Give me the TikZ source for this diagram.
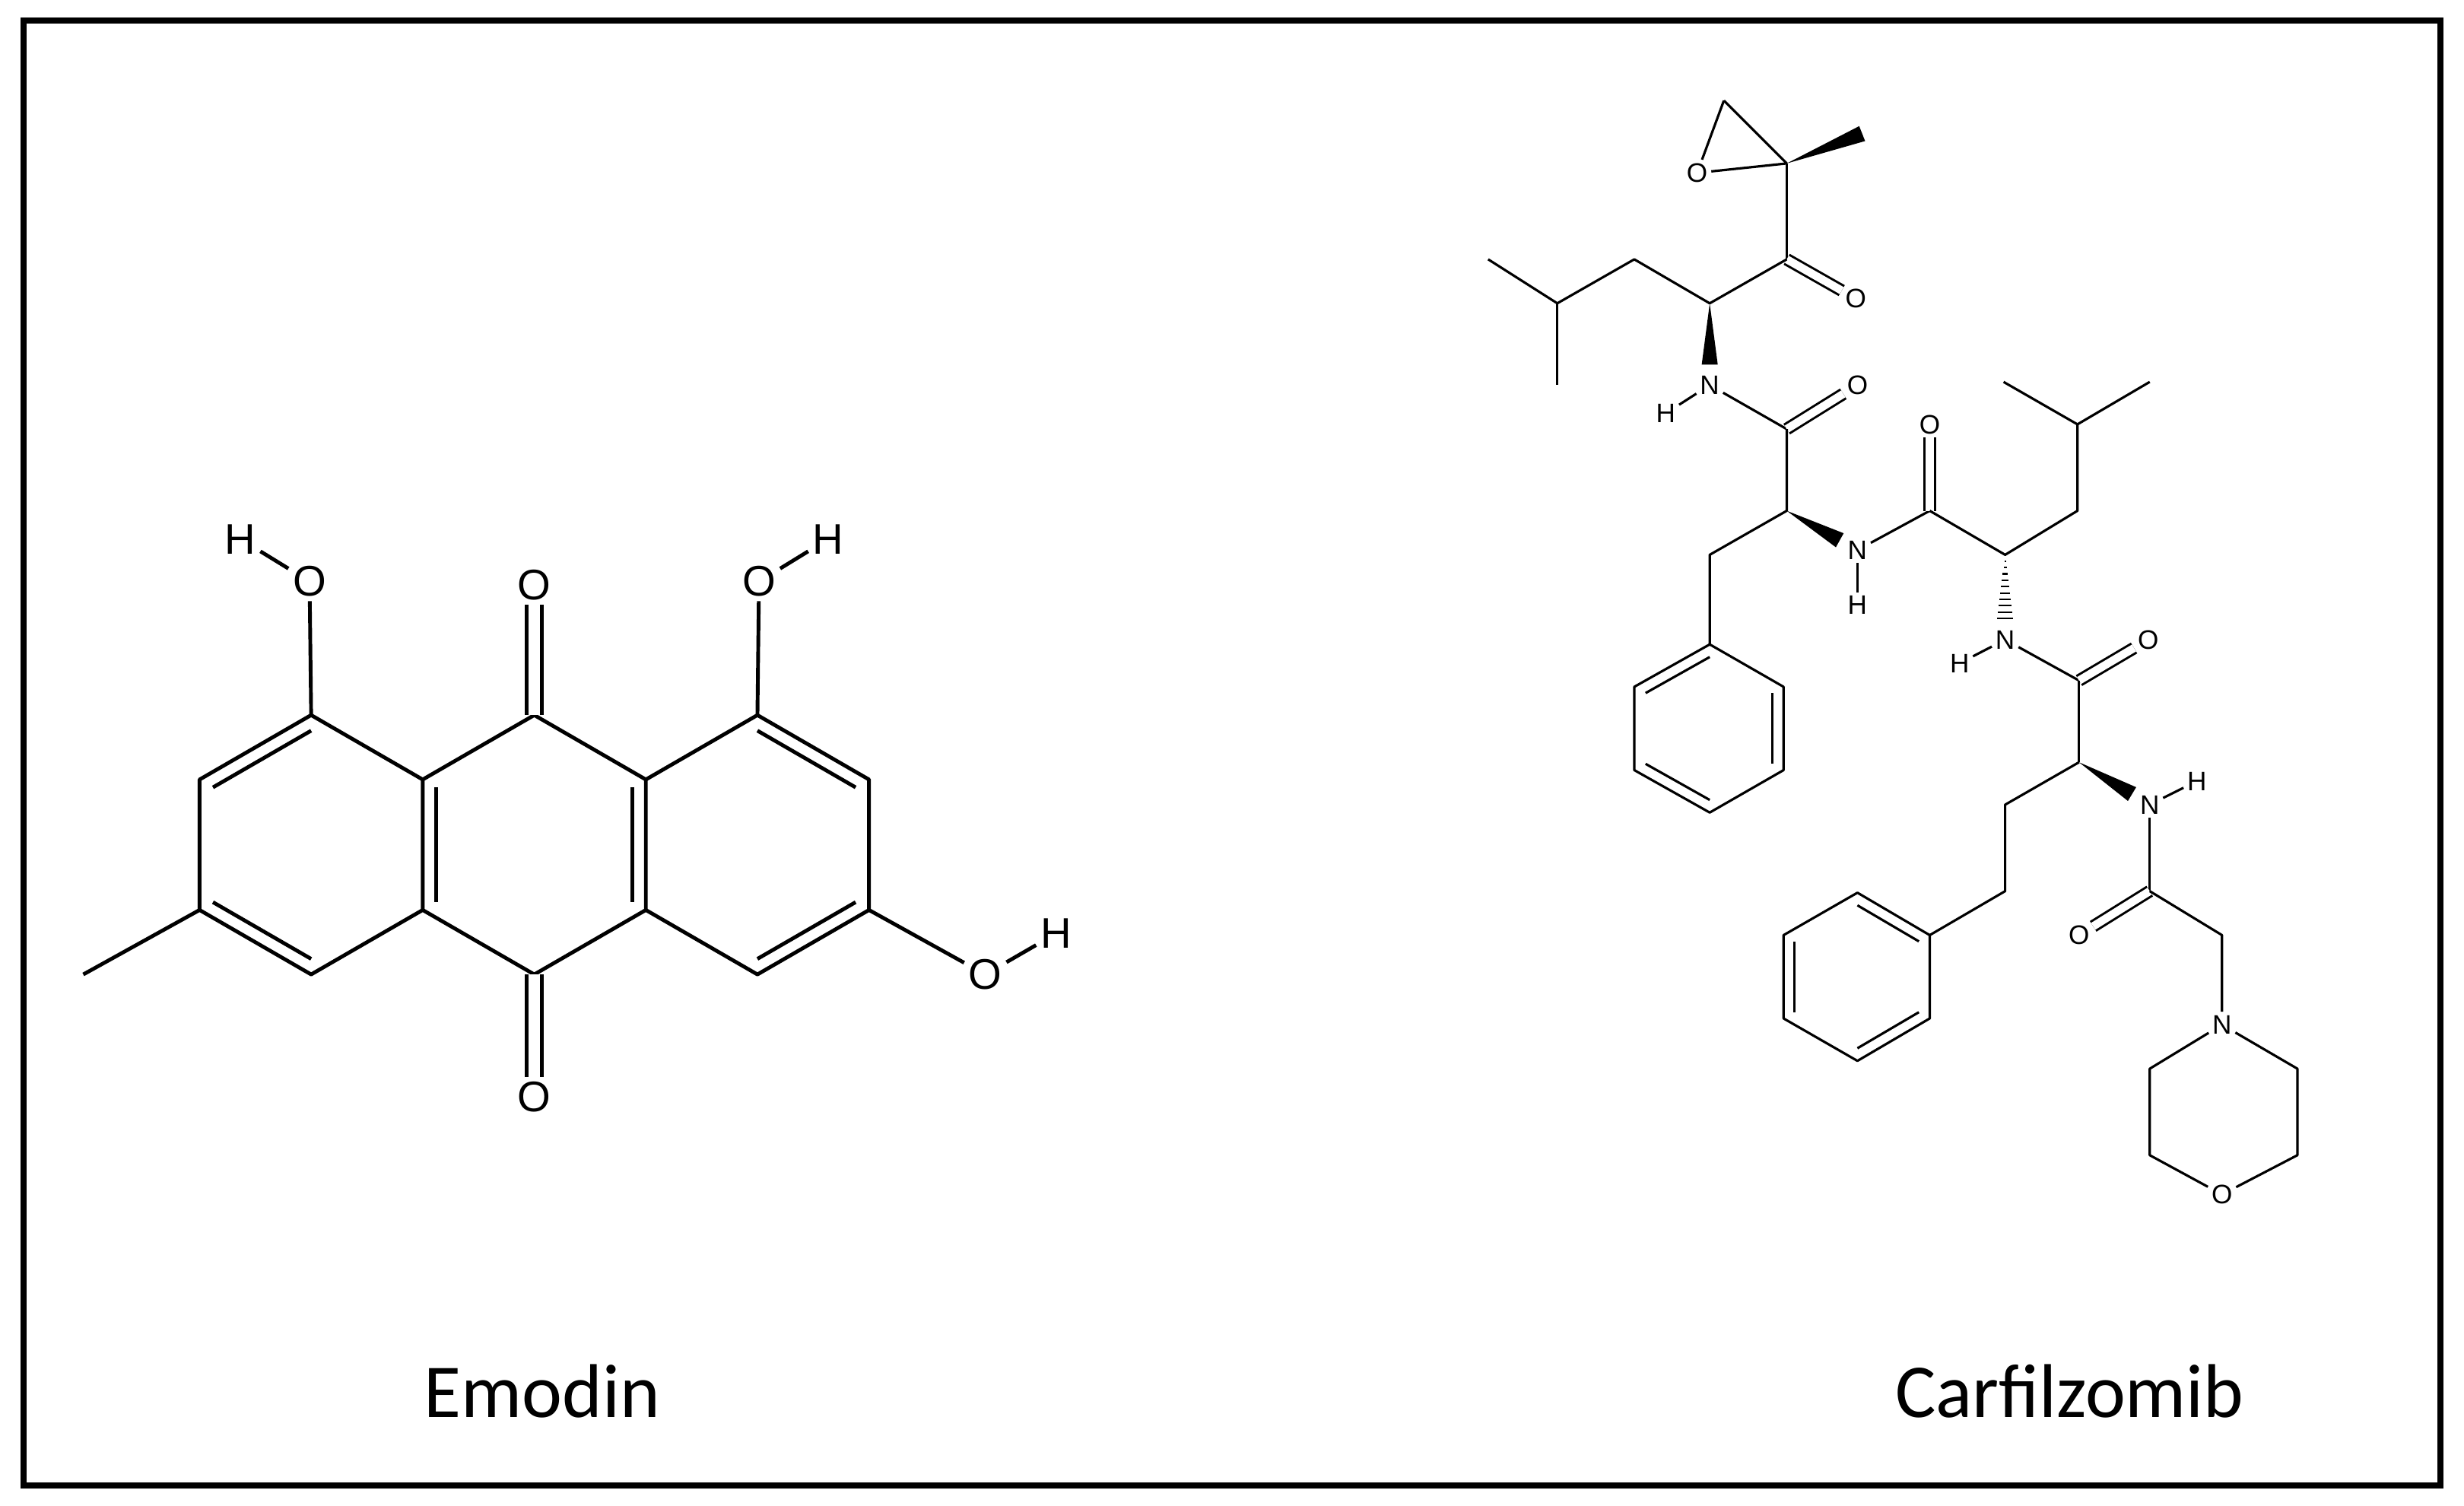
\documentclass[tikz,border=0pt]{standalone}
\usepackage{fontspec}
\setmainfont{Liberation Sans}
\newfontfamily\lblfont{Carlito}
\usetikzlibrary{calc}
\begin{document}
\begin{tikzpicture}[x=0.02066cm,y=-0.02066cm,
  bigatom/.style={inner sep=1.5pt,font=\fontsize{16}{16}\selectfont},
  smatom/.style={inner sep=1.2pt,font=\fontsize{10}{10}\selectfont},
  eb/.style={line width=1.4pt},
  cb/.style={line width=0.9pt},
  ecarb/.style={double,double distance=4.5pt,line width=1.3pt},
  ccarb/.style={double,double distance=3pt,line width=0.85pt},
  lbl/.style={font=\lblfont\fontsize{28.5}{28.5}\selectfont}]
\useasboundingbox (0,0) rectangle (1568,958);
\draw[line width=2.2pt] (15,13) rectangle (1553,945);
% ---------------- Emodin ----------------
\coordinate (c1) at (340,455); \coordinate (c2) at (411,496); \coordinate (c3) at (411,579);
\coordinate (c4) at (340,620); \coordinate (c5) at (269,579); \coordinate (c6) at (269,496);
\coordinate (cc) at (340,537.5);
\coordinate (l1) at (198,455); \coordinate (l2) at (127,496); \coordinate (l3) at (127,579);
\coordinate (l4) at (198,620); \coordinate (lc) at (198,537.5);
\coordinate (r1) at (482,455); \coordinate (r2) at (553,496); \coordinate (r3) at (553,579);
\coordinate (r4) at (482,620); \coordinate (rc) at (482,537.5);
\coordinate (me) at (53,620);
\node[bigatom] (oa) at (340,372) {O};
\node[bigatom] (ob) at (340,698) {O};
\node[bigatom] (o1) at (197,370) {O};
\node[bigatom] (h1) at (153,343) {H};
\node[bigatom] (o2) at (483,370) {O};
\node[bigatom] (h2) at (527,343) {H};
\node[bigatom] (o3) at (627,620) {O};
\node[bigatom] (h3) at (672,594) {H};
\draw[eb,line join=round] (c1)--(c2)--(c3)--(c4)--(c5)--(c6)--cycle;
\draw[eb,line join=round] (c6)--(l1)--(l2)--(l3)--(l4)--(c5);
\draw[eb,line join=round] (c2)--(r1)--(r2)--(r3)--(r4)--(c3);
\draw[eb] ($(c6)!0.12!(cc)$)--($(c5)!0.12!(cc)$);
\draw[eb] ($(c2)!0.12!(cc)$)--($(c3)!0.12!(cc)$);
\draw[eb] ($(l1)!0.12!(lc)$)--($(l2)!0.12!(lc)$);
\draw[eb] ($(l3)!0.12!(lc)$)--($(l4)!0.12!(lc)$);
\draw[eb] ($(r1)!0.12!(rc)$)--($(r2)!0.12!(rc)$);
\draw[eb] ($(r3)!0.12!(rc)$)--($(r4)!0.12!(rc)$);
\draw[eb] (l3)--(me);
\draw[ecarb] (c1)--(oa);
\draw[ecarb] (c4)--(ob);
\draw[eb] (l1)--(o1); \draw[eb] (o1)--(h1);
\draw[eb] (r1)--(o2); \draw[eb] (o2)--(h2);
\draw[eb] (r3)--(o3); \draw[eb] (o3)--(h3);
\node[lbl] (emodin) at (345,885) {Emodin};
% ---------------- Carfilzomib ----------------
\coordinate (ep1) at (1097,64); \node[smatom] (epo) at (1080,110) {O};
\coordinate (ep2) at (1137,104); \coordinate (epm) at (1185,85);
\coordinate (k1) at (1137,165); \node[smatom] (ko) at (1181,190) {O};
\coordinate (a1) at (1088,193); \coordinate (b1) at (1040,165); \coordinate (b2) at (991,193);
\coordinate (b3) at (947,165); \coordinate (b4) at (991,245);
\node[smatom] (n1) at (1088,245) {N}; \node[smatom] (hn1) at (1060,263) {H};
\coordinate (k2) at (1137,273); \node[smatom] (ko2) at (1182,245) {O};
\coordinate (a2) at (1137,325); \coordinate (d1) at (1088,353);
\coordinate (p1) at (1088,410); \coordinate (p2) at (1135,437); \coordinate (p3) at (1135,490);
\coordinate (p4) at (1088,517); \coordinate (p5) at (1040,490); \coordinate (p6) at (1040,437);
\coordinate (pc) at (1088,463.5);
\node[smatom] (n2) at (1182,350) {N}; \node[smatom] (hn2) at (1182,385) {H};
\coordinate (k3) at (1228,325); \node[smatom] (ko3) at (1228,270) {O};
\coordinate (a3) at (1276,353); \coordinate (e1) at (1322,325); \coordinate (e2) at (1322,270);
\coordinate (e3) at (1275,243); \coordinate (e4) at (1368,243);
\node[smatom] (n3) at (1276,407) {N}; \node[smatom] (hn3) at (1247,422) {H};
\coordinate (k4) at (1323,433); \node[smatom] (ko4) at (1367,407) {O};
\coordinate (a4) at (1323,485);
\node[smatom] (n4) at (1368,512) {N}; \node[smatom] (hn4) at (1398,497) {H};
\coordinate (f1) at (1276,512); \coordinate (f2) at (1276,567);
\coordinate (q1) at (1228,595); \coordinate (q2) at (1228,648); \coordinate (q3) at (1182,675);
\coordinate (q4) at (1135,648); \coordinate (q5) at (1135,595); \coordinate (q6) at (1182,568);
\coordinate (qc) at (1182,621.5);
\coordinate (k5) at (1368,567); \node[smatom] (ko5) at (1323,595) {O};
\coordinate (g1) at (1414,595);
\node[smatom] (mn) at (1414,652) {N};
\coordinate (m2) at (1462,680); \coordinate (m3) at (1462,735);
\node[smatom] (mo) at (1414,760) {O};
\coordinate (m5) at (1368,735); \coordinate (m6) at (1368,680);
% bonds
\draw[cb] (ep1)--(epo); \draw[cb] (ep1)--(ep2); \draw[cb] (epo)--(ep2);
\fill (ep2)--($(epm)!3pt!90:(ep2)$)--($(epm)!3pt!-90:(ep2)$)--cycle;
\draw[cb] (ep2)--(k1); \draw[ccarb] (k1)--(ko);
\draw[cb,line join=round] (k1)--(a1)--(b1)--(b2)--(b3); \draw[cb] (b2)--(b4);
\coordinate (w1) at ($(a1)!0.75!(n1)$);
\fill (a1)--($(w1)!3pt!90:(a1)$)--($(w1)!3pt!-90:(a1)$)--cycle;
\draw[cb] (n1)--(hn1); \draw[cb] (n1)--(k2); \draw[ccarb] (k2)--(ko2);
\draw[cb,line join=round] (k2)--(a2)--(d1)--(p1);
\draw[cb,line join=round] (p1)--(p2)--(p3)--(p4)--(p5)--(p6)--cycle;
\draw[cb] ($(p1)!0.15!(pc)$)--($(p6)!0.15!(pc)$);
\draw[cb] ($(p2)!0.15!(pc)$)--($(p3)!0.15!(pc)$);
\draw[cb] ($(p4)!0.15!(pc)$)--($(p5)!0.15!(pc)$);
\coordinate (w2) at ($(a2)!0.75!(n2)$);
\fill (a2)--($(w2)!3pt!90:(a2)$)--($(w2)!3pt!-90:(a2)$)--cycle;
\draw[cb] (n2)--(hn2); \draw[cb] (n2)--(k3); \draw[ccarb] (k3)--(ko3);
\draw[cb,line join=round] (k3)--(a3)--(e1)--(e2)--(e3); \draw[cb] (e2)--(e4);
\coordinate (w3) at ($(a3)!0.75!(n3)$);
\foreach \t in {0.1,0.2,...,1.0}
  \draw[line width=0.6pt] ($($(a3)!\t!(w3)$)!\t*3pt!90:(w3)$)--($($(a3)!\t!(w3)$)!\t*3pt!-90:(w3)$);
\draw[cb] (n3)--(hn3); \draw[cb] (n3)--(k4); \draw[ccarb] (k4)--(ko4);
\draw[cb] (k4)--(a4);
\coordinate (w4) at ($(a4)!0.75!(n4)$);
\fill (a4)--($(w4)!3pt!90:(a4)$)--($(w4)!3pt!-90:(a4)$)--cycle;
\draw[cb] (n4)--(hn4);
\draw[cb,line join=round] (a4)--(f1)--(f2)--(q1);
\draw[cb,line join=round] (q1)--(q2)--(q3)--(q4)--(q5)--(q6)--cycle;
\draw[cb] ($(q6)!0.15!(qc)$)--($(q1)!0.15!(qc)$);
\draw[cb] ($(q4)!0.15!(qc)$)--($(q5)!0.15!(qc)$);
\draw[cb] ($(q2)!0.15!(qc)$)--($(q3)!0.15!(qc)$);
\draw[cb] (n4)--(k5); \draw[ccarb] (k5)--(ko5);
\draw[cb,line join=round] (k5)--(g1)--(mn);
\draw[cb,line join=round] (mn)--(m2)--(m3)--(mo)--(m5)--(m6)--(mn);
\node[lbl] (carf) at (1317,885) {Carfilzomib};
\end{tikzpicture}
\end{document}
